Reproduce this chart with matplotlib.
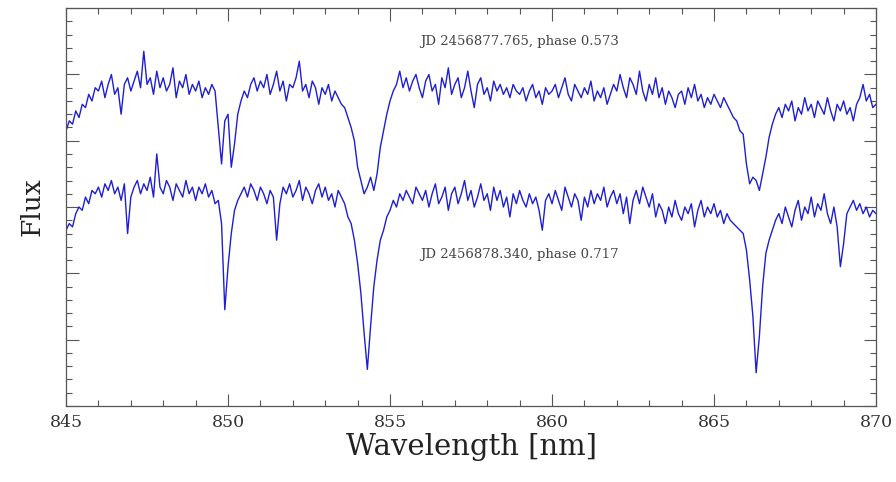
import numpy as np
import matplotlib
matplotlib.use("Agg")
import matplotlib.pyplot as plt
from matplotlib.ticker import MultipleLocator

# wavelength grid (nm), 0.1 nm steps
wave = np.round(np.arange(845.0, 870.05, 0.1), 2)

# spectrum 1: JD 2456877.765, phase 0.573 (one row per nm)
flux_a = [
    0.83, 0.86, 0.85, 0.89, 0.87, 0.91, 0.90, 0.94, 0.92, 0.96,  # 845
    0.95, 0.98, 0.93, 0.97, 1.00, 0.94, 0.96, 0.88, 0.97, 0.99,  # 846
    0.95, 0.98, 1.01, 0.96, 1.07, 0.97, 0.99, 0.94, 1.01, 0.96,  # 847
    0.99, 0.95, 0.97, 1.02, 0.93, 0.98, 0.96, 1.00, 0.94, 0.97,  # 848
    0.95, 0.98, 0.93, 0.96, 0.94, 0.97, 0.95, 0.84, 0.73, 0.86,  # 849
    0.88, 0.72, 0.79, 0.88, 0.92, 0.95, 0.93, 0.97, 0.99, 0.95,  # 850
    0.98, 0.96, 1.00, 0.94, 0.97, 1.01, 0.95, 0.98, 0.92, 0.97,  # 851
    0.96, 0.99, 1.04, 0.95, 0.97, 0.93, 0.98, 0.96, 0.91, 0.96,  # 852
    0.94, 0.97, 0.92, 0.95, 0.93, 0.91, 0.90, 0.87, 0.84, 0.80,  # 853
    0.72, 0.68, 0.64, 0.66, 0.69, 0.65, 0.70, 0.78, 0.83, 0.88,  # 854
    0.92, 0.95, 0.97, 1.01, 0.96, 0.99, 0.95, 0.98, 1.00, 0.96,  # 855
    0.93, 0.98, 1.00, 0.95, 0.97, 0.91, 0.99, 0.96, 1.02, 0.94,  # 856
    0.97, 0.99, 0.93, 0.96, 1.01, 0.95, 0.90, 0.97, 0.99, 0.94,  # 857
    0.96, 0.92, 0.98, 0.95, 0.97, 0.94, 0.96, 0.93, 0.97, 0.95,  # 858
    0.94, 0.96, 0.92, 0.95, 0.97, 0.93, 0.95, 0.91, 0.96, 0.94,  # 859
    0.95, 0.97, 0.93, 0.96, 0.99, 0.94, 0.92, 0.97, 0.95, 0.93,  # 860
    0.96, 0.94, 0.98, 0.92, 0.95, 0.93, 0.96, 0.91, 0.94, 0.97,  # 861
    0.95, 1.00, 0.96, 0.93, 0.99, 0.97, 0.94, 1.01, 0.95, 0.92,  # 862
    0.97, 0.94, 0.99, 0.93, 0.96, 0.91, 0.95, 0.93, 0.90, 0.94,  # 863
    0.95, 0.91, 0.96, 0.93, 0.97, 0.92, 0.94, 0.90, 0.93, 0.91,  # 864
    0.94, 0.92, 0.90, 0.93, 0.91, 0.89, 0.87, 0.86, 0.83, 0.82,  # 865
    0.73, 0.67, 0.69, 0.68, 0.65, 0.70, 0.75, 0.81, 0.85, 0.88,  # 866
    0.90, 0.87, 0.91, 0.89, 0.92, 0.86, 0.90, 0.88, 0.93, 0.89,  # 867
    0.91, 0.87, 0.92, 0.90, 0.88, 0.93, 0.89, 0.86, 0.91, 0.89,  # 868
    0.92, 0.88, 0.90, 0.86, 0.91, 0.93, 0.97, 0.92, 0.94, 0.90,  # 869
    0.91,
]

# spectrum 2: JD 2456878.340, phase 0.717
flux_b = [
    0.53, 0.55, 0.54, 0.58, 0.60, 0.59, 0.63, 0.61, 0.65, 0.64,  # 845
    0.66, 0.63, 0.67, 0.65, 0.68, 0.64, 0.66, 0.62, 0.67, 0.52,  # 846
    0.63, 0.66, 0.68, 0.64, 0.67, 0.65, 0.69, 0.63, 0.76, 0.66,  # 847
    0.64, 0.68, 0.66, 0.62, 0.67, 0.65, 0.63, 0.68, 0.64, 0.66,  # 848
    0.62, 0.66, 0.64, 0.67, 0.63, 0.65, 0.61, 0.62, 0.55, 0.29,  # 849
    0.42, 0.52, 0.59, 0.62, 0.64, 0.66, 0.63, 0.67, 0.65, 0.62,  # 850
    0.66, 0.64, 0.61, 0.65, 0.63, 0.50, 0.61, 0.66, 0.64, 0.67,  # 851
    0.63, 0.65, 0.68, 0.62, 0.66, 0.64, 0.61, 0.65, 0.67, 0.63,  # 852
    0.66, 0.62, 0.64, 0.60, 0.65, 0.63, 0.61, 0.57, 0.55, 0.50,  # 853
    0.43, 0.34, 0.22, 0.11, 0.24, 0.36, 0.44, 0.50, 0.53, 0.57,  # 854
    0.59, 0.62, 0.60, 0.64, 0.62, 0.65, 0.63, 0.61, 0.66, 0.64,  # 855
    0.62, 0.65, 0.60, 0.64, 0.67, 0.61, 0.63, 0.66, 0.59, 0.64,  # 856
    0.66, 0.61, 0.64, 0.68, 0.62, 0.65, 0.60, 0.63, 0.67, 0.62,  # 857
    0.64, 0.59, 0.66, 0.62, 0.65, 0.60, 0.63, 0.57, 0.64, 0.61,  # 858
    0.65, 0.62, 0.60, 0.64, 0.61, 0.63, 0.59, 0.53, 0.62, 0.64,  # 859
    0.61, 0.65, 0.62, 0.59, 0.66, 0.63, 0.60, 0.64, 0.62, 0.56,  # 860
    0.63, 0.60, 0.65, 0.61, 0.64, 0.62, 0.66, 0.60, 0.63, 0.65,  # 861
    0.61, 0.64, 0.58, 0.63, 0.55, 0.62, 0.65, 0.61, 0.66, 0.63,  # 862
    0.60, 0.64, 0.57, 0.61, 0.59, 0.55, 0.60, 0.57, 0.62, 0.58,  # 863
    0.56, 0.60, 0.58, 0.61, 0.54, 0.59, 0.62, 0.57, 0.60, 0.58,  # 864
    0.61, 0.57, 0.59, 0.55, 0.58, 0.56, 0.55, 0.54, 0.53, 0.52,  # 865
    0.47, 0.38, 0.27, 0.10, 0.21, 0.36, 0.46, 0.50, 0.53, 0.56,  # 866
    0.58, 0.55, 0.60, 0.57, 0.54, 0.59, 0.62, 0.56, 0.60, 0.58,  # 867
    0.63, 0.57, 0.61, 0.59, 0.64, 0.58, 0.55, 0.60, 0.54, 0.42,  # 868
    0.49, 0.58, 0.60, 0.62, 0.59, 0.61, 0.58, 0.60, 0.57, 0.59,  # 869
    0.58,
]

labels = ["JD 2456877.765, phase 0.573", "JD 2456878.340, phase 0.717"]
label_pos = [(855.92, 1.098), (855.92, 0.457)]

plt.rcParams["font.family"] = "DejaVu Serif"

fig = plt.figure(figsize=(8.96, 4.82), dpi=100)
ax = fig.add_axes([0.0737, 0.158, 0.904, 0.825])

ax.plot(wave, flux_a, color="#1e1ed2", lw=1.0)
ax.plot(wave, flux_b, color="#1e1ed2", lw=1.0)

for txt, (x, y) in zip(labels, label_pos):
    ax.text(x, y, txt, fontsize=9.5, color="#444444", ha="left", va="center")

ax.set_xlim(845, 870)
ax.set_ylim(0, 1.2)
ax.xaxis.set_major_locator(MultipleLocator(5))
ax.xaxis.set_minor_locator(MultipleLocator(1))
ax.yaxis.set_major_locator(MultipleLocator(0.2))
ax.yaxis.set_minor_locator(MultipleLocator(0.04))
ax.tick_params(which="both", direction="in", top=True, right=True,
               color="#555555", width=0.8)
ax.tick_params(which="major", length=9)
ax.tick_params(which="minor", length=4.5)
ax.tick_params(axis="x", labelsize=12.5, pad=6, labelcolor="#333333")
ax.set_yticklabels([])
for s in ax.spines.values():
    s.set_color("#555555")
    s.set_linewidth(0.9)

ax.set_xlabel("Wavelength [nm]", fontsize=21, color="#222222", labelpad=1)
ax.set_ylabel("Flux", fontsize=19, color="#222222", labelpad=12)

fig.savefig("out.png", dpi=100)
